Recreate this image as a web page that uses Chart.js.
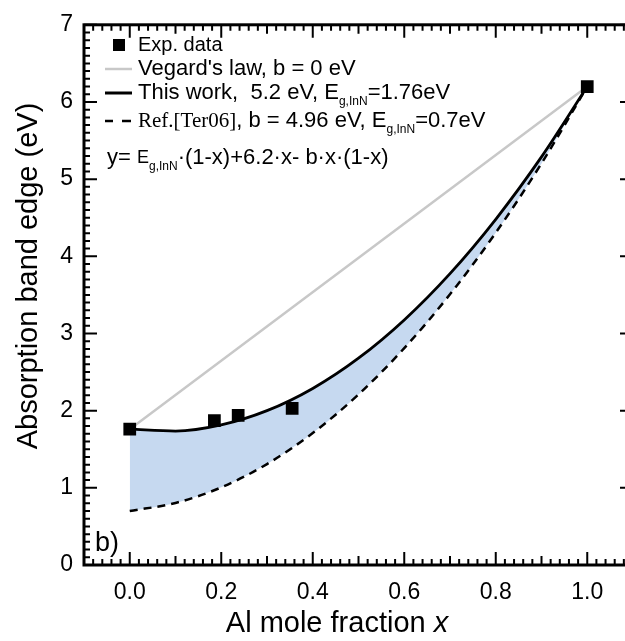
<!DOCTYPE html>
<html>
<head>
<meta charset="utf-8">
<script src="https://cdn.jsdelivr.net/npm/chart.js@4/dist/chart.umd.min.js"></script>
<style>
  html, body { margin: 0; padding: 0; background: #fff; overflow: hidden; }
  #wrap { width: 645px; height: 641px; }
</style>
</head>
<body>
<div id="wrap"><canvas id="bandChart" width="645" height="641"></canvas></div>
<script>
// measured points
const expX = [0.0, 0.185, 0.237, 0.355, 1.0];
const expY = [1.76, 1.87, 1.94, 2.03, 6.2];

// Vegard's law (b = 0)
const vegardX = [0.0, 1.0];
const vegardY = [1.76, 6.2];

// curves
const curveX = [0.0, 0.1, 0.2, 0.3, 0.4, 0.5, 0.6, 0.7, 0.8, 0.9, 1.0];
const thisWorkY = [1.76, 1.736, 1.816, 2.0, 2.288, 2.68, 3.176, 3.776, 4.48, 5.288, 6.2];
const refY = [0.70, 0.804, 1.006, 1.308, 1.71, 2.21, 2.81, 3.508, 4.306, 5.204, 6.2];

const xTickValues = [0.0, 0.2, 0.4, 0.6, 0.8, 1.0];
const yTickValues = [0, 1, 2, 3, 4, 5, 6, 7];

const SANS = "'Liberation Sans', Arial, sans-serif";
const SERIF = "'Liberation Serif', 'Times New Roman', serif";

const toPoints = (xs, ys) => xs.map((x, i) => ({ x: x, y: ys[i] }));

// draws text pieces one after another, returns end x
const drawRun = (ctx, x, y, parts) => {
    for (const p of parts) {
        ctx.font = p.font;
        ctx.fillText(p.text, x, y + (p.dy || 0));
        x += ctx.measureText(p.text).width;
    }
    return x;
};

const framePlugin = {
    id: "frame",
    afterDraw(chart) {
        const ctx = chart.ctx;
        const xs = chart.scales.x;
        const ys = chart.scales.y;
        const { left, right, top, bottom } = chart.chartArea;

        ctx.save();
        ctx.strokeStyle = "#000";
        ctx.fillStyle = "#000";

        // inward ticks on all four sides
        ctx.lineWidth = 2;
        ctx.beginPath();
        for (let i = -5; i <= 55; i++) {
            const px = xs.getPixelForValue(i * 0.02);
            if (px < left || px > right) continue;
            const len = i % 10 === 0 ? 13 : (i % 5 === 0 ? 9 : 6);
            ctx.moveTo(px, bottom); ctx.lineTo(px, bottom - len);
            ctx.moveTo(px, top); ctx.lineTo(px, top + len);
        }
        for (let i = 0; i <= 70; i++) {
            const py = ys.getPixelForValue(i / 10);
            const len = i % 10 === 0 ? 13 : 6;
            ctx.moveTo(left, py); ctx.lineTo(left + len, py);
            ctx.moveTo(right, py); ctx.lineTo(right - len, py);
        }
        ctx.stroke();

        ctx.lineWidth = 3;
        ctx.strokeRect(left, top, right - left, bottom - top);

        // axis titles
        ctx.textBaseline = "middle";
        ctx.textAlign = "left";
        ctx.font = "29px " + SANS;
        const t1 = "Al mole fraction ";
        const w1 = ctx.measureText(t1).width;
        ctx.font = "italic 29px " + SANS;
        const w2 = ctx.measureText("x").width;
        const tx = 337 - (w1 + w2) / 2;
        drawRun(ctx, tx, 624, [
            { text: t1, font: "29px " + SANS },
            { text: "x", font: "italic 29px " + SANS }
        ]);

        ctx.save();
        ctx.translate(29, 276);
        ctx.rotate(-Math.PI / 2);
        ctx.textAlign = "center";
        ctx.font = "29px " + SANS;
        ctx.fillText("Absorption band edge (eV)", 0, 0);
        ctx.restore();

        // panel label
        ctx.font = "27px " + SANS;
        ctx.fillText("b)", 95, 544);

        // legend
        ctx.fillRect(113, 39, 12, 12);
        ctx.font = "20px " + SANS;
        ctx.fillText("Exp. data", 138, 45);

        ctx.lineWidth = 2.5;
        ctx.strokeStyle = "#c8c8c8";
        ctx.beginPath(); ctx.moveTo(105, 69); ctx.lineTo(132, 69); ctx.stroke();
        ctx.font = "22px " + SANS;
        ctx.fillText("Vegard's law, b = 0 eV", 138, 69);

        ctx.strokeStyle = "#000";
        ctx.lineWidth = 3;
        ctx.beginPath(); ctx.moveTo(105, 93); ctx.lineTo(132, 93); ctx.stroke();
        drawRun(ctx, 138, 93, [
            { text: "This work,  5.2 eV, E", font: "22px " + SANS },
            { text: "g,InN", font: "12px " + SANS, dy: 9 },
            { text: "=1.76eV", font: "22px " + SANS }
        ]);

        ctx.lineWidth = 2.5;
        ctx.beginPath();
        ctx.moveTo(105, 121); ctx.lineTo(113, 121);
        ctx.moveTo(122, 121); ctx.lineTo(131, 121);
        ctx.stroke();
        drawRun(ctx, 138, 121, [
            { text: "Ref.[Ter06]", font: "21px " + SERIF },
            { text: ", b = 4.96 eV, E", font: "22px " + SANS },
            { text: "g,InN", font: "12px " + SANS, dy: 9 },
            { text: "=0.7eV", font: "22px " + SANS }
        ]);

        drawRun(ctx, 107, 158, [
            { text: "y= ", font: "22px " + SANS },
            { text: "E", font: "18px " + SANS },
            { text: "g,InN", font: "12px " + SANS, dy: 9 },
            { text: "\u00b7(1-x)+6.2\u00b7x- b\u00b7x\u00b7(1-x)", font: "22px " + SANS }
        ]);

        ctx.restore();
    }
};

const ctx = document.getElementById("bandChart").getContext("2d");

new Chart(ctx, {
    type: "line",
    data: {
        datasets: [
            {
                label: "Exp. data",
                data: toPoints(expX, expY),
                showLine: false,
                pointStyle: "rect",
                pointRadius: 9,
                pointBackgroundColor: "#000",
                pointBorderWidth: 0,
                order: 0
            },
            {
                label: "Vegard's law, b = 0 eV",
                data: toPoints(vegardX, vegardY),
                borderColor: "#c8c8c8",
                borderWidth: 2.5,
                pointRadius: 0,
                fill: false,
                order: 3
            },
            {
                label: "This work",
                data: toPoints(curveX, thisWorkY),
                borderColor: "#000",
                borderWidth: 2.8,
                pointRadius: 0,
                cubicInterpolationMode: "monotone",
                fill: { target: 3 },
                backgroundColor: "#c6d9f0",
                order: 1
            },
            {
                label: "Ref.[Ter06]",
                data: toPoints(curveX, refY),
                borderColor: "#000",
                borderWidth: 2.5,
                borderDash: [8, 6],
                pointRadius: 0,
                cubicInterpolationMode: "monotone",
                fill: false,
                order: 2
            }
        ]
    },
    options: {
        responsive: false,
        animation: false,
        layout: { padding: { top: 17, right: 12, left: 0, bottom: 0 } },
        plugins: {
            legend: { display: false },
            tooltip: { enabled: false },
            filler: { drawTime: "beforeDatasetsDraw" }
        },
        scales: {
            x: {
                type: "linear",
                min: -0.1,
                max: 1.1,
                grid: { display: false, drawTicks: false },
                border: { display: false },
                afterBuildTicks: (axis) => { axis.ticks = xTickValues.map(v => ({ value: v })); },
                afterFit: (axis) => { axis.height = 76; },
                ticks: {
                    color: "#000",
                    padding: 14,
                    maxRotation: 0,
                    font: { family: SANS, size: 23 },
                    callback: (v) => Number(v).toFixed(1)
                }
            },
            y: {
                min: 0,
                max: 7,
                grid: { display: false, drawTicks: false },
                border: { display: false },
                afterBuildTicks: (axis) => { axis.ticks = yTickValues.map(v => ({ value: v })); },
                afterFit: (axis) => { axis.width = 84; },
                ticks: {
                    color: "#000",
                    padding: 11,
                    font: { family: SANS, size: 23 }
                }
            }
        }
    },
    plugins: [framePlugin]
});
</script>
</body>
</html>
